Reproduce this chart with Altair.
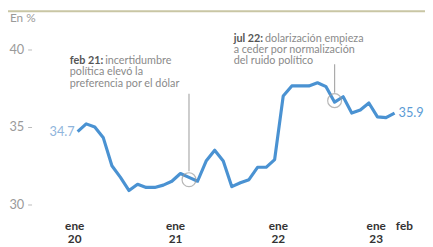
import altair as alt
import pandas as pd

# Monthly dollarization share (%), Jan 2020 .. Feb 2023
meses = [f"{y}-{m:02d}" for y in (2020, 2021, 2022) for m in range(1, 13)] + ["2023-01", "2023-02"]
valores = [34.7, 35.2, 35.0, 34.3, 32.5, 31.75, 30.9, 31.3, 31.1, 31.1, 31.25, 31.5,
           32.0, 31.75, 31.5, 32.8, 33.5, 32.8, 31.15, 31.4, 31.6, 32.4, 32.4, 32.9,
           37.0, 37.65, 37.65, 37.65, 37.85, 37.6, 36.6, 36.95, 35.9, 36.1, 36.55, 35.65,
           35.6, 35.9]

# x-axis tick labels
tick_mes = ["2020-01", "2021-01", "2022-01", "2023-01", "2023-02"]
tick_nombre = ["ene", "ene", "ene", "ene", "feb"]
tick_anio = ["20", "21", "22", "23", ""]
tick_dx = [-3, -5, -5, -10, 10]

# annotations
ann_mes = ["2021-02", "2022-07"]
ann_valor = [31.6, 36.7]
ann_top = [37.15, 39.05]
ann_bottom = [32.15, 37.21]

W, H = 425, 239
PXM = 8.73   # px per month
PXU = 15.8   # px per percentage point
X0 = -8.13
Y1 = 42.53
XD = [X0, X0 + W / PXM]
YD = [Y1 - H / PXU, Y1]

idx = {m: i for i, m in enumerate(meses)}
df = pd.DataFrame({"mes": meses, "valor": valores, "i": list(range(len(meses)))})
xs = alt.Scale(domain=XD, nice=False, zero=False)
ys = alt.Scale(domain=YD, nice=False, zero=False)

BLUE = "#4a92d2"
GRAY = "#9a9a9a"
FONT = "Lato"
AFS = 11

YAX = alt.Axis(values=[30, 35, 40], offset=-24, domain=False, grid=False, ticks=True,
               tickSize=4, tickColor="#bbbbbb", labelColor=GRAY, labelFont=FONT,
               labelFontSize=13, labelPadding=4, title=None)

def X(f):
    return alt.X(f, scale=xs, axis=None)

def Y(f):
    return alt.Y(f, scale=ys, axis=YAX)

line = alt.Chart(df).mark_line(color=BLUE, strokeWidth=3.2, strokeJoin="round").encode(
    x=X("i:Q"), y=Y("valor:Q"))

ends = pd.DataFrame({"i": [0, len(meses) - 1], "valor": [valores[0], valores[-1]],
                     "t": [f"{valores[0]}", f"{valores[-1]}"]})
lab_start = alt.Chart(ends.iloc[[0]]).mark_text(align="right", baseline="middle", dx=-3,
                                               font=FONT, fontSize=13, color="#8fb5dc").encode(
    x=X("i:Q"), y=Y("valor:Q"), text="t:N")
lab_end = alt.Chart(ends.iloc[[1]].reset_index(drop=True)).mark_text(
    align="left", baseline="middle", dx=4, font=FONT, fontSize=13, color="#5b9bd5").encode(
    x=X("i:Q"), y=Y("valor:Q"), text="t:N")

ann = pd.DataFrame({"i": [idx[m] for m in ann_mes], "valor": ann_valor,
                    "top": ann_top, "bottom": ann_bottom})
circles = alt.Chart(ann).mark_point(shape="circle", size=200, filled=False, color=GRAY,
                                    strokeWidth=1.2).encode(
    x=X("i:Q"), y=Y("valor:Q"))
leaders = alt.Chart(ann).mark_rule(color="#aaaaaa", strokeWidth=1.2).encode(
    x=X("i:Q"), y=Y("top:Q"), y2=alt.Y2("bottom"))

ticks = pd.DataFrame({"i": [idx[m] for m in tick_mes], "n": tick_nombre,
                      "a": tick_anio, "dx": tick_dx})
ticks["ix"] = ticks["i"] + ticks["dx"] / PXM
tick_n = alt.Chart(ticks).mark_text(font=FONT, fontSize=12, fontWeight="bold", color="#333333",
                                    baseline="middle").encode(
    x=X("ix:Q"), y=alt.value(219.5), text="n:N")
tick_a = alt.Chart(ticks).mark_text(font=FONT, fontSize=12, fontWeight="bold", color="#333333",
                                    baseline="middle").encode(
    x=X("ix:Q"), y=alt.value(233), text="a:N")

def txt(s, x, y, bold=False, color="#8a8a8a", fs=AFS):
    return alt.Chart(pd.DataFrame({"t": [s]})).mark_text(
        align="left", baseline="middle", font=FONT, fontSize=fs,
        fontWeight="bold" if bold else "normal", color=color).encode(
        x=alt.value(x), y=alt.value(y), text="t:N")

texts = [
    txt("En %", 2, 8, color=GRAY, fs=12),
    txt("feb 21:", 63, 52, bold=True, color="#555555"),
    txt("incertidumbre", 99, 52),
    txt("política elevó la", 63, 63.5),
    txt("preferencia por el dólar", 63, 75),
    txt("jul 22:", 230, 29, bold=True, color="#555555"),
    txt("dolarización empieza", 262, 29),
    txt("a ceder por normalización", 230, 40.5),
    txt("del ruido político", 230, 52),
]

top_rule = alt.Chart(pd.DataFrame({"a": [0]})).mark_rule(color="#c9c6a4", strokeWidth=2).encode(
    x=alt.value(0), x2=alt.value(W), y=alt.value(1))

chart = alt.layer(top_rule, leaders, line, circles, lab_start, lab_end, tick_n, tick_a, *texts).properties(
    width=W, height=H, padding=0, autosize=alt.AutoSizeParams(type="none"),
    background="white",
).configure_view(strokeWidth=0)

chart.save("out.html", embed_options={"renderer": "svg", "actions": False})
